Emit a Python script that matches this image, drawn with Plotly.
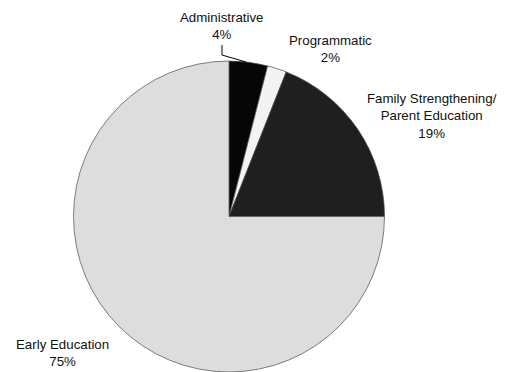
import plotly.graph_objects as go

# Data
categories = ["Administrative", "Programmatic", "Family Strengthening/<br>Parent Education", "Early Education"]
shares = [4, 2, 19, 75]
colors = ["#060606", "#f3f3f3", "#1f1f1f", "#dddddd"]

# The page body has an 8px default margin; work in window pixels and offset.
OFF = 8
W, H = 505 - OFF, 372 - OFF
# Label centres in window pixels (layout only)
label_pos = [(222, 26), (330, 49), (432, 116), (62, 353)]


def fx(px):
    return (px - OFF) / W


def fy(py):
    return 1 - (py - OFF) / H


fig = go.Figure()
fig.add_trace(go.Pie(
    labels=[c.replace("<br>", " ") for c in categories],
    values=shares,
    sort=False,
    direction="clockwise",
    rotation=0,
    marker=dict(colors=colors, line=dict(color="#4a4a4a", width=0.7)),
    textinfo="none",
    hoverinfo="label+percent",
    showlegend=False,
    domain=dict(x=[fx(71), fx(387)], y=[0, fy(61)]),
))

annotations = []
for cat, val, (px, py) in zip(categories, shares, label_pos):
    annotations.append(dict(
        text=f"{cat}<br>{val}%",
        x=fx(px), y=fy(py),
        xref="paper", yref="paper",
        xanchor="center", yanchor="middle",
        showarrow=False, align="center",
        font=dict(family="Liberation Sans, Arial, sans-serif", size=13.3, color="#111111"),
    ))


def P(px, py):
    return f"{fx(px)} {fy(py)}"


shapes = [dict(
    type="path", xref="paper", yref="paper",
    path=f"M {P(222, 45)} L {P(222, 55)} L {P(246, 62)}",
    line=dict(color="#000000", width=1),
)]

fig.update_layout(
    width=W, height=H,
    margin=dict(l=0, r=0, t=0, b=0),
    paper_bgcolor="white", plot_bgcolor="white",
    annotations=annotations,
    shapes=shapes,
)

fig.write_html("out.html")
